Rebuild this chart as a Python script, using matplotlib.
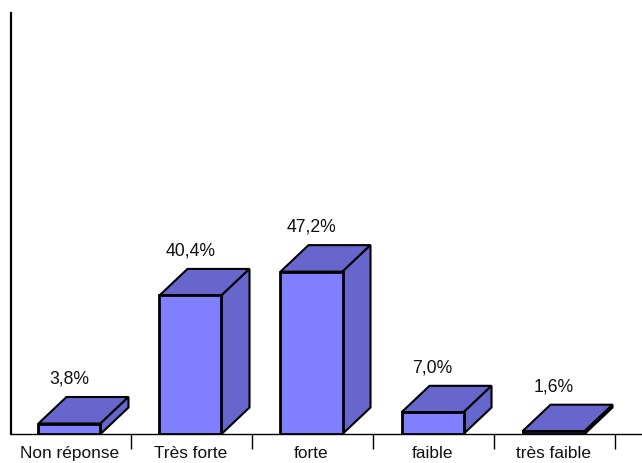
# 3D look bar chart, drawn by hand with polygons
import numpy as np
import matplotlib
matplotlib.use('agg')
import matplotlib.pyplot as plt

categories = ['Non réponse', 'Très forte', 'forte', 'faible', 'très faible']
values = [3.8, 40.4, 47.2, 7.0, 1.6]
labels = ['3,8%', '40,4%', '47,2%', '7,0%', '1,6%']

plt.rcParams['font.family'] = ['Liberation Sans', 'DejaVu Sans']

W, H = 642, 464
fig = plt.figure(figsize=(W / 100, H / 100), dpi=100)
ax = fig.add_axes([11.5 / W, 1 - 435 / H, (642 - 11.5) / W, (435 - 14) / H])

ymin = 0.8
ymax = 121.1
ax.set_xlim(-0.479, 4.731)
ax.set_ylim(ymin, ymax)

bw = 62 / 121  # bar width
dx = 28 / 121  # depth, in data units
dy = 26.5 / 3.5
front = '#8080FF'
dark = '#6666CC'

for i, v in enumerate(values):
	l = i - bw / 2
	r = i + bw / 2
	ax.bar(i, v - ymin, bw, bottom=ymin, color=front, edgecolor='black', lw=2, zorder=3)
	ax.fill([l, l + dx, r + dx, r], [v, v + dy, v + dy, v], facecolor=dark, edgecolor='black', lw=1.5, zorder=2)
	ax.fill([r, r + dx, r + dx, r], [ymin, ymin + dy, v + dy, v], facecolor=dark, edgecolor='black', lw=1.5, zorder=2)
	ax.annotate(labels[i], (i, v + dy), xytext=(0, 19), textcoords='offset pixels',
		ha='center', va='center', fontsize=12.7, color='#111111')

for s in ['top', 'right']:
	ax.spines[s].set_visible(False)
ax.spines['left'].set_linewidth(1.6)
ax.spines['bottom'].set_linewidth(1.0)

ax.set_yticks([])
ax.set_xticks(np.arange(len(categories)))
ax.set_xticklabels(categories, fontsize=12.4, color='#111111')
ax.tick_params(axis='x', which='major', length=0, pad=8)
ax.set_xticks(np.arange(len(categories)) + 0.508, minor=True)
ax.tick_params(axis='x', which='minor', length=11, width=1.0)

fig.savefig('out.png', dpi=100)
